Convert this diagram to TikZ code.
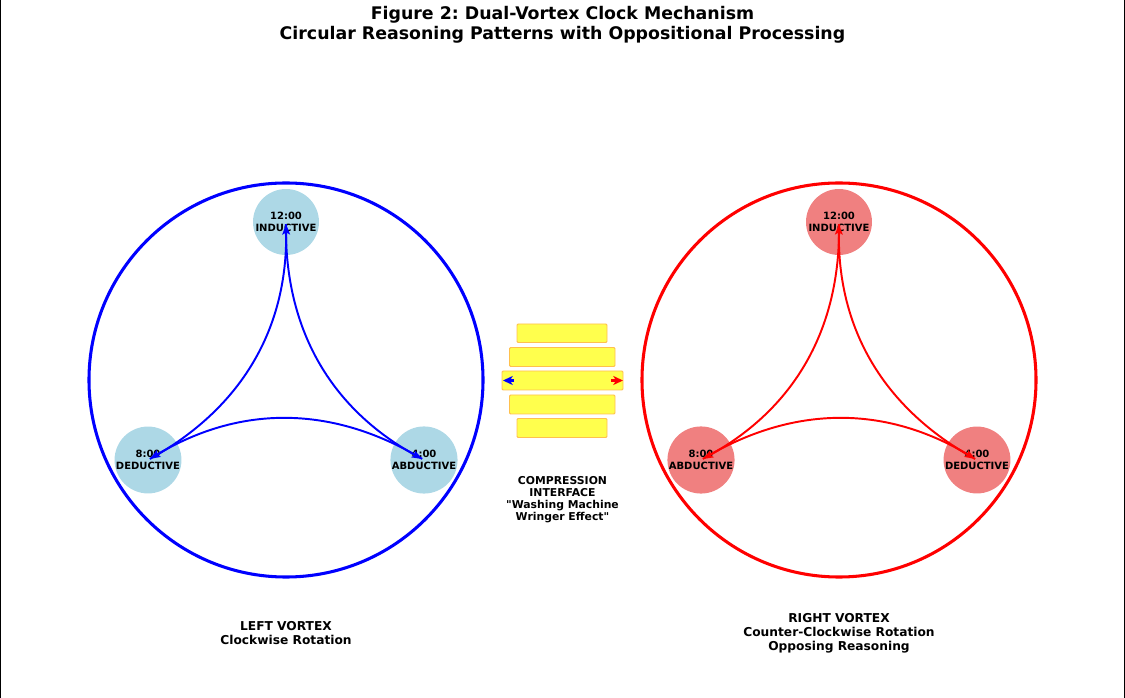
\documentclass[tikz,border=0pt]{standalone}
\usepackage{fontspec}
\setmainfont{DejaVu Sans}
\newfontfamily\plainq{DejaVu Sans}
\usetikzlibrary{calc,arrows.meta}
\frenchspacing
\definecolor{lblue}{RGB}{173,216,230}
\definecolor{lcoral}{RGB}{240,128,128}
\definecolor{ylw}{RGB}{255,255,77}
\definecolor{org}{RGB}{255,192,77}
\tikzset{
  bigring/.style={line width=2.2pt},
  clocknode/.style={circle,minimum size=47.5pt,inner sep=0pt,align=center,
    font=\fontsize{7.2}{8.6}\selectfont\bfseries},
  flow/.style={line width=1.4pt,-{Stealth[length=7.5pt,width=5.5pt,inset=1.5pt]},
    shorten >=1.5pt,shorten <=1.5pt},
  plate/.style={draw=org,fill=ylw,line width=0.7pt,rounded corners=0.8pt},
  tip/.style={line width=1.6pt,-{Stealth[length=7pt,width=6.5pt,inset=2pt]}},
  lbl/.style={align=center,font=\fontsize{8.8}{10.1}\selectfont\bfseries},
  side/.style={line width=0.8pt,black}
}
\newcommand\vortexarc[4]{%
  \coordinate (tmpm) at ($(#1)!0.5!(#2)$);
  \coordinate (tmpc) at ($(tmpm)!0.6!#3:(#2)$);
  \coordinate (tmpa) at ($(#1)!0.6667!(tmpc)$);
  \coordinate (tmpb) at ($(#2)!0.6667!(tmpc)$);
  \draw[flow,#4] (#1.center) .. controls (tmpa) and (tmpb) .. (#2.center);
}
\begin{document}
\begin{tikzpicture}[x=0.72pt,y=-0.72pt]
\useasboundingbox (0,0) rectangle (1125,698);
\coordinate (tl) at (0.6,0); \coordinate (bl) at (0.6,698);
\coordinate (tr) at (1124.2,0); \coordinate (br) at (1124.2,698);
\draw[side] (tl) -- (bl);
\draw[side] (tr) -- (br);

% title
\node[align=center,font=\fontsize{12.5}{14}\selectfont\bfseries] (title) at (562.5,25)
  {Figure 2: Dual-Vortex Clock Mechanism\\Circular Reasoning Patterns with Oppositional Processing};

% left vortex
\node[bigring,draw=blue,circle,minimum size=283.7pt,inner sep=0pt] (lring) at (286,380) {};
\node[clocknode,fill=lblue] (l12) at (286,222) {12:00\\INDUCTIVE};
\node[clocknode,fill=lblue] (l4) at (424,460) {4:00\\ABDUCTIVE};
\node[clocknode,fill=lblue] (l8) at (148,460) {8:00\\DEDUCTIVE};
\vortexarc{l12}{l4}{-90}{blue}
\vortexarc{l4}{l8}{-90}{blue}
\vortexarc{l8}{l12}{-90}{blue}

% right vortex
\node[bigring,draw=red,circle,minimum size=283.7pt,inner sep=0pt] (rring) at (839,380) {};
\node[clocknode,fill=lcoral] (r12) at (839,222) {12:00\\INDUCTIVE};
\node[clocknode,fill=lcoral] (r8) at (701,460) {8:00\\ABDUCTIVE};
\node[clocknode,fill=lcoral] (r4) at (977,460) {4:00\\DEDUCTIVE};
\vortexarc{r12}{r8}{90}{red}
\vortexarc{r8}{r4}{90}{red}
\vortexarc{r4}{r12}{90}{red}

% compression interface
\draw[plate] (517,324) rectangle (607,342.5);
\draw[plate] (509.5,347.5) rectangle (615,366.5);
\draw[plate] (502,371) rectangle (623,390);
\draw[plate] (509.5,395) rectangle (615,414);
\draw[plate] (517,418.5) rectangle (607,437.5);
\coordinate (ba) at (514,380.5); \coordinate (bb) at (503,380.5);
\coordinate (ra) at (611,380.5); \coordinate (rb) at (623,380.5);
\draw[tip,blue] (ba) -- (bb);
\draw[tip,red] (ra) -- (rb);
\node[align=center,font=\plainq\fontsize{7.8}{8.7}\selectfont\bfseries] (comp) at (562.5,500)
  {COMPRESSION\\INTERFACE\\"Washing Machine\\Wringer Effect"};

% bottom labels
\node[lbl] (llab) at (286,633) {LEFT VORTEX\\Clockwise Rotation};
\node[lbl] (rlab) at (839,633) {RIGHT VORTEX\\Counter-Clockwise Rotation\\Opposing Reasoning};
\end{tikzpicture}
\end{document}
